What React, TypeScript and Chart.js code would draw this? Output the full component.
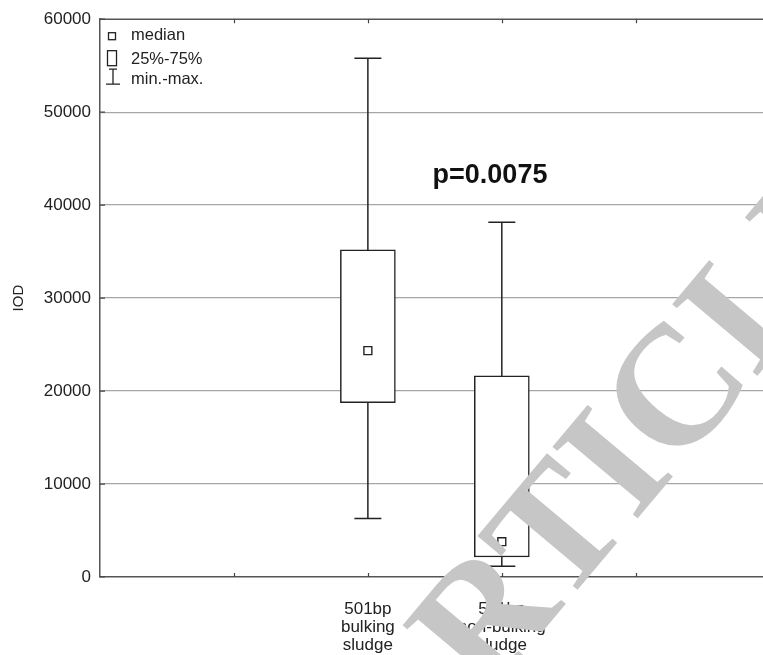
import React, { useEffect, useRef } from "react";
import { Chart, registerables } from "chart.js";

Chart.register(...registerables);

// x tick slots; the two categories sit at slots 2 and 3
const tickLabels: string[][] = [[], [], ["501bp", "bulking", "sludge"], ["501bp", "non-bulking", "sludge"], []];
const categorySlots = [2, 3];
const minValues = [6300, 1150];
const q1Values = [18750, 2150];
const medianValues = [24350, 3800];
const q3Values = [35200, 21650];
const maxValues = [55800, 38150];
const yTicks = [0, 10000, 20000, 30000, 40000, 50000, 60000];
const legendLabels = ["median", "25%-75%", "min.-max."];
const pValueText = "p=0.0075";
const yTitle = "IOD";

const FONT = '"Liberation Sans", Arial, sans-serif';

const overlayPlugin = {
  id: "overlay",
  afterDatasetsDraw(chart: any) {
    const { ctx, chartArea: a, scales } = chart;
    const xs = scales.x;
    const ys = scales.y;
    ctx.save();
    ctx.strokeStyle = "#555";
    ctx.lineWidth = 1.5;
    ctx.beginPath();
    ctx.moveTo(a.left, a.top);
    ctx.lineTo(a.right, a.top);
    ctx.stroke();
    ctx.strokeStyle = "#444";
    ctx.lineWidth = 1.2;
    ctx.beginPath();
    for (let i = 1; i < tickLabels.length; i++) {
      const px = Math.round(xs.getPixelForValue(i)) + 0.5;
      ctx.moveTo(px, a.bottom);
      ctx.lineTo(px, a.bottom - 4);
      ctx.moveTo(px, a.top);
      ctx.lineTo(px, a.top + 4);
    }
    for (const v of yTicks) {
      const py = ys.getPixelForValue(v);
      ctx.moveTo(a.left, py);
      ctx.lineTo(a.left + 5, py);
    }
    ctx.stroke();

    const L = a.left;
    const T = a.top;
    ctx.strokeStyle = "#222";
    ctx.lineWidth = 1.3;
    ctx.strokeRect(L + 8.5, T + 13.5, 7, 7);
    ctx.strokeRect(L + 7.5, T + 31.5, 9, 15);
    ctx.beginPath();
    ctx.moveTo(L + 13, T + 50);
    ctx.lineTo(L + 13, T + 65);
    ctx.moveTo(L + 9, T + 50);
    ctx.lineTo(L + 17, T + 50);
    ctx.moveTo(L + 6, T + 65);
    ctx.lineTo(L + 20, T + 65);
    ctx.stroke();
    ctx.fillStyle = "#222";
    ctx.font = `16.5px ${FONT}`;
    ctx.textBaseline = "middle";
    ctx.textAlign = "left";
    ctx.fillText(legendLabels[0], L + 31, T + 16.5);
    ctx.fillText(legendLabels[1], L + 31, T + 40);
    ctx.fillText(legendLabels[2], L + 31, T + 60);

    ctx.font = `bold 27px ${FONT}`;
    ctx.textAlign = "center";
    ctx.fillStyle = "#111";
    ctx.fillText(pValueText, 490, 176);
    ctx.restore();
  },
  afterDraw(chart: any) {
    const { ctx } = chart;
    ctx.save();
    const size = 170;
    ctx.translate(673, 389);
    ctx.rotate((-50 * Math.PI) / 180);
    ctx.font = `bold ${size}px "Liberation Serif", "Times New Roman", serif`;
    ctx.fillStyle = "#c6c6c6";
    ctx.textBaseline = "alphabetic";
    ctx.textAlign = "left";
    const pre = ctx.measureText("ARTI").width;
    const cw = ctx.measureText("C").width;
    ctx.fillText("ARTICLE IN PRESS", -pre - cw / 2, size * 0.33);
    ctx.restore();
  },
};

export default function App() {
  const canvasRef = useRef<HTMLCanvasElement | null>(null);

  useEffect(() => {
    document.body.style.margin = "0";
    const canvas = canvasRef.current;
    if (!canvas) return;

    const boxData = categorySlots.map((s, i) => ({ x: s, y: [q1Values[i], q3Values[i]] }));
    const medianData = categorySlots.map((s, i) => ({ x: s, y: medianValues[i] }));
    const capData: any[] = [];
    const whiskerData: any[] = [];
    categorySlots.forEach((s, i) => {
      capData.push({ x: s, y: minValues[i] }, { x: s, y: maxValues[i] });
      if (i > 0) whiskerData.push({ x: s - 0.5, y: null });
      whiskerData.push({ x: s, y: minValues[i] }, { x: s, y: maxValues[i] });
    });

    const chart = new Chart(canvas, {
      type: "bar",
      data: {
        datasets: [
          {
            type: "scatter",
            data: medianData,
            pointStyle: "rect",
            pointRadius: 5.6,
            pointHoverRadius: 5.6,
            pointBackgroundColor: "#fff",
            pointBorderColor: "#222",
            pointBorderWidth: 1.4,
            order: 0,
          } as any,
          {
            type: "bar",
            data: boxData,
            backgroundColor: "#fff",
            borderColor: "#222",
            borderWidth: 1.5,
            borderSkipped: false,
            barThickness: 55,
            order: 1,
          } as any,
          {
            type: "scatter",
            data: capData,
            pointStyle: "line",
            pointRadius: 13.5,
            pointHoverRadius: 13.5,
            pointBorderColor: "#222",
            pointBorderWidth: 1.5,
            order: 2,
          } as any,
          {
            type: "line",
            data: whiskerData,
            borderColor: "#222",
            borderWidth: 1.5,
            pointRadius: 0,
            spanGaps: false,
            fill: false,
            order: 3,
          } as any,
        ],
      },
      options: {
        animation: false,
        responsive: false,
        devicePixelRatio: 1,
        layout: { autoPadding: false, padding: { top: 17, right: 0, left: 0, bottom: 0 } },
        plugins: { legend: { display: false }, tooltip: { enabled: false } },
        scales: {
          x: {
            type: "linear",
            offset: false,
            min: 0,
            max: 4.95,
            ticks: {
              stepSize: 1,
              includeBounds: false,
              autoSkip: false,
              maxRotation: 0,
              padding: 23,
              color: "#222",
              font: { family: FONT, size: 17, lineHeight: 1.06 },
              callback: (v: any) => {
                const lab = tickLabels[v as number];
                return lab && lab.length ? lab : "";
              },
            },
            grid: { display: false, drawTicks: false, offset: false },
            border: { display: true, color: "#555", width: 1.5 },
            afterFit: (s: any) => {
              s.height = 78;
              s.paddingLeft = 0;
              s.paddingRight = 0;
            },
          },
          y: {
            type: "linear",
            min: 0,
            max: 60000,
            afterBuildTicks: (s: any) => {
              s.ticks = yTicks.map((v) => ({ value: v }));
            },
            ticks: {
              padding: 9,
              color: "#222",
              font: { family: FONT, size: 17 },
              callback: (v: any) => String(v),
            },
            grid: {
              drawTicks: false,
              color: (c: any) =>
                c.tick && (c.tick.value === 0 || c.tick.value === 60000) ? "rgba(0,0,0,0)" : "#a6a6a6",
              lineWidth: 1.3,
            },
            border: { display: true, color: "#555", width: 1.5 },
            title: {
              display: true,
              text: yTitle,
              color: "#222",
              font: { family: FONT, size: 15 },
              padding: { top: 10, bottom: 0 },
            },
            afterFit: (s: any) => {
              s.width = 100;
            },
          },
        },
      },
      plugins: [overlayPlugin],
    });

    return () => chart.destroy();
  }, []);

  return (
    <div style={{ width: 763, height: 655, background: "#fff" }}>
      <canvas ref={canvasRef} width={763} height={655} style={{ display: "block" }} />
    </div>
  );
}
